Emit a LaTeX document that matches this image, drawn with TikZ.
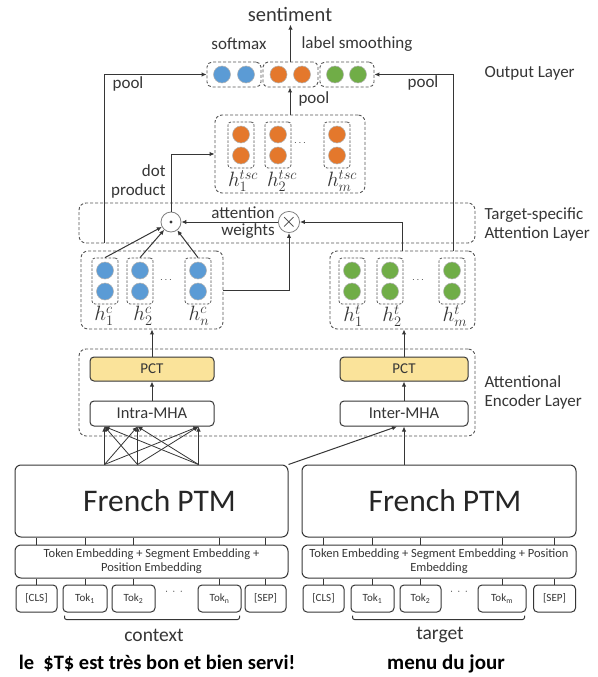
\documentclass[tikz,border=0pt]{standalone}
\usepackage{fontspec}
\setmainfont{Carlito}
\usetikzlibrary{arrows.meta,calc}
\definecolor{cblue}{HTML}{5B9BD5}
\definecolor{corange}{HTML}{E4782C}
\definecolor{cgreen}{HTML}{70AD47}
\definecolor{cyel}{HTML}{FAE39A}
\definecolor{ink}{HTML}{363636}
\definecolor{dgray}{HTML}{555555}
\tikzset{
 grp/.style={draw=dgray, dash pattern=on 3pt off 2pt, line width=0.9pt, rounded corners=7pt, inner sep=0pt},
 colbox/.style={draw=dgray, dash pattern=on 2.5pt off 1.5pt, line width=0.8pt, rounded corners=3pt, minimum width=26pt, minimum height=46pt, inner sep=0pt},
 neu/.style={circle, minimum size=17pt, inner sep=0pt, draw=white!70!black, line width=0.5pt},
 arr/.style={draw=ink, line width=1pt, -{Latex[length=5pt,width=4.5pt]}},
 ln/.style={draw=ink, line width=1pt},
 sbox/.style={draw=ink, line width=1pt, rounded corners=4pt, inner sep=0pt},
 lbl/.style={font=\fontsize{17}{19}\selectfont, align=left, text=ink},
 hlab/.style={font=\fontsize{20}{20}\selectfont, text=ink, inner sep=0pt},
 tok/.style={sbox, rounded corners=4pt, minimum height=27pt, font=\fontsize{11}{11}\selectfont},
 emb/.style={sbox, rounded corners=6pt, minimum height=33pt, align=center, font=\fontsize{12.5}{14}\selectfont},
 ptm/.style={sbox, rounded corners=6pt, minimum height=72pt, font=\fontsize{31.5}{31.5}\selectfont},
}
\begin{document}
\begin{tikzpicture}[x=1pt,y=-1pt]
\fill[white] (0,0) rectangle (597,677);
\useasboundingbox (0,0) rectangle (597,677);

% ---------------- Output layer
\node[grp, rounded corners=5pt, minimum width=54pt, minimum height=25pt] (ob1) at (234,74.5) {};
\node[grp, rounded corners=5pt, minimum width=55pt, minimum height=25pt] (ob2) at (290.5,74.5) {};
\node[grp, rounded corners=5pt, minimum width=54pt, minimum height=25pt] (ob3) at (347,74.5) {};
\node[neu, fill=cblue] (o1a) at (222,74.5) {};
\node[neu, fill=cblue] (o1b) at (246,74.5) {};
\node[neu, fill=corange] (o2a) at (278.5,74.5) {};
\node[neu, fill=corange] (o2b) at (302,74.5) {};
\node[neu, fill=cgreen] (o3a) at (335,74.5) {};
\node[neu, fill=cgreen] (o3b) at (358,74.5) {};
\node[font=\fontsize{20.5}{20.5}\selectfont, text=ink] (sent) at (290,14) {sentiment};
\draw[arr] (ob2.north) -- (ob2.north |- sent.south);
\node[lbl] (softmax) at (239,44) {softmax};
\node[lbl] (lsmooth) at (357,44) {label smoothing};
\node[lbl, anchor=west] (outlab) at (481,73) {Output Layer};

% ---------------- tsc group
\node[grp, minimum width=150pt, minimum height=78pt] (tsc) at (290,154) {};
\foreach \x/\n in {241/1,278/2,337/3}{
  \node[colbox] (tc\n) at (\x,145) {};
  \node[neu, fill=corange] (tca\n) at (\x,134.5) {};
  \node[neu, fill=corange] (tcb\n) at (\x,155.5) {};
}
\node[text=ink] (tdots) at (300,143) {$\cdots$};
\node[hlab] (tl1) at (243,181) {$h_1^{tsc}$};
\node[hlab] (tl2) at (282,181) {$h_2^{tsc}$};
\node[hlab] (tl3) at (342,181) {$h_m^{tsc}$};
\draw[arr] (tsc.north) -- (tsc.north |- ob2.south);
\node[lbl, anchor=west] (poolm) at (295,99) {pool};

% ---------------- attention layer
\node[grp, minimum width=396pt, minimum height=40pt] (att) at (277,223) {};
\node[lbl, anchor=west] (attlab) at (481,224) {Target-specific\\Attention Layer};
\node[circle, draw=gray, line width=0.8pt, minimum size=20pt, inner sep=0pt, fill=white] (od) at (171,222) {};
\fill[ink] (od.center) circle (1.7pt);
\node[circle, draw=gray, line width=0.8pt, minimum size=20pt, inner sep=0pt, fill=white, font=\fontsize{22}{22}\selectfont, text=ink] (ot) at (289,222) {$\times$};
\node[lbl] (attw1) at (243,213) {attention};
\node[lbl] (attw2) at (248,231) {weights};
\node[lbl, align=right, anchor=east] (dotp) at (169,181) {dot\\product};

% ---------------- context group
\node[grp, minimum width=142pt, minimum height=78pt] (cg) at (152,290) {};
\foreach \x/\n in {105/1,140/2,198/3}{
  \node[colbox] (cc\n) at (\x,281) {};
  \node[neu, fill=cblue] (cca\n) at (\x,270.5) {};
  \node[neu, fill=cblue] (ccb\n) at (\x,291.5) {};
}
\node[text=ink] (cdots) at (166,280) {$\cdots$};
\node[hlab] (cl1) at (104,316) {$h_1^{c}$};
\node[hlab] (cl2) at (143,316) {$h_2^{c}$};
\node[hlab] (cl3) at (199,316) {$h_n^{c}$};

% ---------------- target group
\node[grp, minimum width=145pt, minimum height=78pt] (tg) at (402.5,290) {};
\foreach \x/\n in {352/1,390/2,452/3}{
  \node[colbox] (gc\n) at (\x,281) {};
  \node[neu, fill=cgreen] (gca\n) at (\x,270.5) {};
  \node[neu, fill=cgreen] (gcb\n) at (\x,291.5) {};
}
\node[text=ink] (gdots) at (418,280) {$\cdots$};
\node[hlab] (gl1) at (353,316) {$h_1^{t}$};
\node[hlab] (gl2) at (392,316) {$h_2^{t}$};
\node[hlab] (gl3) at (455,316) {$h_m^{t}$};

% attention connectors
\foreach \n in {1,2,3}{ \draw[arr] (cc\n.north) -- (od); }
\draw[arr] (cg.east) -| (ot.south);
\draw[arr] (tg.north) |- (ot.east);
\draw[arr] (ot.west) -- (od.east);
\draw[arr] (od.north) |- (tsc.west);

% pools
\coordinate (lp) at (104,243);
\coordinate (rp) at (453,251);
\draw[arr] (lp) |- (ob1.west);
\draw[arr] (rp) |- (ob3.east);
\node[lbl] (pooll) at (128,84) {pool};
\node[lbl] (poolr) at (423,83) {pool};

% ---------------- encoder layer
\node[grp, minimum width=396pt, minimum height=87pt] (enc) at (277,392.5) {};
\node[lbl, anchor=west] (enclab) at (481,392) {Attentional\\Encoder Layer};
\node[sbox, fill=cyel, minimum width=124pt, minimum height=24pt, font=\fontsize{15}{15}\selectfont, text=ink] (pctL) at (152,369) {PCT};
\node[sbox, fill=white, minimum width=124pt, minimum height=25pt, font=\fontsize{16.5}{16.5}\selectfont, text=ink] (intra) at (152,413.5) {Intra-MHA};
\node[sbox, fill=cyel, minimum width=128pt, minimum height=24pt, font=\fontsize{15}{15}\selectfont, text=ink] (pctR) at (404,369) {PCT};
\node[sbox, fill=white, minimum width=128pt, minimum height=25pt, font=\fontsize{16.5}{16.5}\selectfont, text=ink] (inter) at (404,413.5) {Inter-MHA};
\draw[arr] (intra) -- (pctL);
\draw[arr] (inter) -- (pctR);
\draw[arr] (pctL.north) -- (cg.south);
\draw[arr] (pctR.north) -- (pctR.north |- tg.south);

% ---------------- PTM
\node[ptm, minimum width=273pt, text=black!85] (ptmL) at (151.5,501) {\hspace{16pt}French PTM};
\node[ptm, minimum width=274pt, text=black!85] (ptmR) at (439,501) {\hspace{12pt}French PTM};
\node[emb, minimum width=273pt, text=ink] (embL) at (151.5,561.5) {Token Embedding + Segment Embedding +\\Position Embedding};
\node[emb, minimum width=274pt, text=ink] (embR) at (439,561.5) {Token Embedding + Segment Embedding + Position\\Embedding};

% tokens left
\node[tok, minimum width=41pt, text=ink] (Lcls) at (36.5,598.5) {[CLS]};
\node[tok, minimum width=44pt, text=ink] (Lt1) at (85,598.5) {Tok\textsubscript{1}};
\node[tok, minimum width=43pt, text=ink] (Lt2) at (133.5,598.5) {Tok\textsubscript{2}};
\node[tok, minimum width=43pt, text=ink] (Ltn) at (219.5,598.5) {Tok\textsubscript{n}};
\node[tok, minimum width=41pt, text=ink] (Lsep) at (265.5,598.5) {[SEP]};
\node[text=ink, font=\fontsize{11}{11}\selectfont] (Ldots) at (174,592) {$\cdot\,\cdot\,\cdot$};
% tokens right
\node[tok, minimum width=41pt, text=ink] (Rcls) at (323.5,598.5) {[CLS]};
\node[tok, minimum width=43pt, text=ink] (Rt1) at (372.5,598.5) {Tok\textsubscript{1}};
\node[tok, minimum width=41pt, text=ink] (Rt2) at (420.5,598.5) {Tok\textsubscript{2}};
\node[tok, minimum width=48pt, text=ink] (Rtn) at (502,598.5) {Tok\textsubscript{m}};
\node[tok, minimum width=42pt, text=ink] (Rsep) at (554.5,598.5) {[SEP]};
\node[text=ink, font=\fontsize{11}{11}\selectfont] (Rdots) at (459,592) {$\cdot\,\cdot\,\cdot$};

\foreach \s in {L,R}{
  \foreach \t in {cls,t1,t2,tn,sep}{
    \draw[ln] (\s\t.north |- emb\s.south) -- (\s\t.north);
    \draw[ln] (\s\t.north |- ptm\s.south) -- (\s\t.north |- emb\s.north);
  }
}

% brackets
\draw[ln, rounded corners=2pt] ($(Lt1.south west)+(2,3)$) -- ++(0,4) -| ($(Ltn.south east)+(-2,3)$);
\draw[ln, rounded corners=2pt] ($(Rt1.south west)+(2,3)$) -- ++(0,4) -| ($(Rtn.south east)+(-2,3)$);
\node[font=\fontsize{19.5}{19.5}\selectfont, text=ink] (ctx) at (154,635) {context};
\node[font=\fontsize{19.5}{19.5}\selectfont, text=ink] (tgt) at (440,635) {target};
\node[font=\fontsize{20.5}{20.5}\selectfont\bfseries, text=black] (sentL) at (157,663) {le\ \ \$T\$ est très bon et bien servi!};
\node[font=\fontsize{21}{21}\selectfont\bfseries, text=black] (sentR) at (446,664) {menu du jour};

% ---------------- encoder inputs
\path (intra.south west) ++(15,0) coordinate (i1) ++(33,0) coordinate (i2) ++(61,0) coordinate (i3);
\foreach \a in {1,2,3}{
  \foreach \b in {1,2,3}{
    \draw[arr, line width=0.8pt] (i\a |- ptmL.north) -- (i\b);
  }
}
\draw[arr] (ptmL.north east) -- ($(inter.south)+(-7,0)$);
\draw[arr] (inter.south |- ptmR.north) -- (inter.south);
\end{tikzpicture}
\end{document}
